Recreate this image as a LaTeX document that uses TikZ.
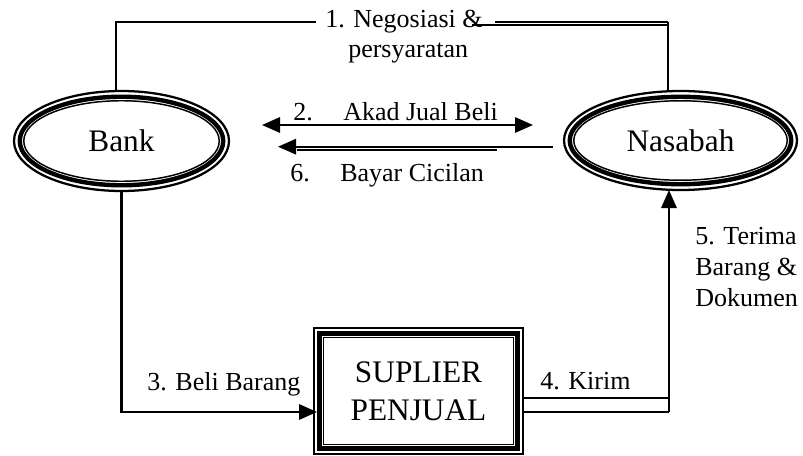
\documentclass[tikz,border=0pt]{standalone}
\usepackage{fontspec}
\setmainfont{Liberation Serif}
\usetikzlibrary{arrows.meta,calc,shapes.geometric}
\tikzset{
  ln/.style={line width=1.6pt},
  thn/.style={line width=1.3pt},
  tipend/.style={-{Triangle[length=13.5pt,width=11.5pt]}},
  tipboth/.style={{Triangle[length=13.5pt,width=11.5pt]}-{Triangle[length=13.5pt,width=11.5pt]}},
  lbl/.style={inner sep=0pt, anchor=base west, font=\fontsize{19.5}{23}\selectfont},
  big/.style={font=\fontsize{23.5}{28.5}\selectfont},
  ring/.style={ellipse, draw, line width=1.7pt, inner sep=0pt, outer sep=0pt, big}
}
\begin{document}
\begin{tikzpicture}[x=0.75pt,y=-0.75pt]
\path[use as bounding box] (0,0) rectangle (803,456);

% Bank
\node[ring, minimum width=161.25pt, minimum height=75pt] (bank) at (121.5,141) {Bank};
\draw[line width=3.3pt] (bank.center) ellipse [x radius=76.3pt, y radius=33.2pt];
\draw[line width=1.1pt] (bank.center) ellipse [x radius=73.3pt, y radius=30.2pt];

% Nasabah
\node[ring, minimum width=174.75pt, minimum height=74.25pt] (nas) at (680.5,140.5) {Nasabah};
\draw[line width=3.3pt] (nas.center) ellipse [x radius=83.05pt, y radius=32.8pt];
\draw[line width=1.1pt] (nas.center) ellipse [x radius=80.05pt, y radius=29.8pt];

% Suplier
\node[draw, line width=1.7pt, inner sep=0pt, outer sep=0pt, minimum width=156.75pt, minimum height=94.5pt, align=center, big] (sup) at (418.5,391) {SUPLIER\\PENJUAL};
\draw[line width=3.3pt] ($(sup.north west)+(5.5,5.5)$) rectangle ($(sup.south east)+(-5.5,-5.5)$);
\draw[line width=1.1pt] ($(sup.north west)+(9.5,9.5)$) rectangle ($(sup.south east)+(-9.5,-9.5)$);

% Labels
\node[lbl] (n1) at (325,28) {1. Negosiasi \&};
\node[lbl] (n1b) at (348,58) {persyaratan};
\node[lbl] (n2a) at (293,121) {2.};
\node[lbl] (n2b) at (343,121) {Akad Jual Beli};
\node[lbl] (n6a) at (290,182) {6.};
\node[lbl] (n6b) at (340,182) {Bayar Cicilan};
\node[lbl] (n3) at (147,390) {3. Beli Barang};
\node[lbl] (n4) at (540,389) {4. Kirim};
\node[lbl] (n5a) at (695,244) {5. Terima};
\node[lbl] (n5b) at (695,275) {Barang \&};
\node[lbl] (n5c) at (695,306) {Dokumen};

% 1. Negosiasi
\draw[ln] ($(bank.north)+(-5.5,0)$) |- ($(n1.west)+(-9,0)$);
\coordinate (tr) at (668,21.8);
\draw[thn] (495,21.8) -- (tr);
\draw[thn] (472,25.2) -- (668,25.2);
\draw[ln] (tr) -- (nas.north -| tr);

% 2. Akad
\coordinate (a2l) at (262,125);
\coordinate (a2r) at (533,125);
\draw[ln, tipboth] (a2l) -- (a2r);

% 6. Bayar
\coordinate (a6r) at (553,146.7);
\coordinate (a6l) at (278,146.7);
\draw[ln, tipend] (a6r) -- (a6l);
\draw[ln] (297,150) -- (497,150);

% 3. Beli
\coordinate (a3) at (317,412);
\draw[ln, tipend] (bank.south) |- (a3);

% 4. Kirim / 5. Terima
\coordinate (k1) at (669,398);
\coordinate (k2) at (669,412);
\draw[thn] (sup.east |- k1) -- (k1);
\draw[thn] (sup.east |- k2) -- (k2);
\draw[ln, tipend] (k1) -- (nas.south -| k1);
\draw[ln] (k1) -- (k2);
\end{tikzpicture}
\end{document}
